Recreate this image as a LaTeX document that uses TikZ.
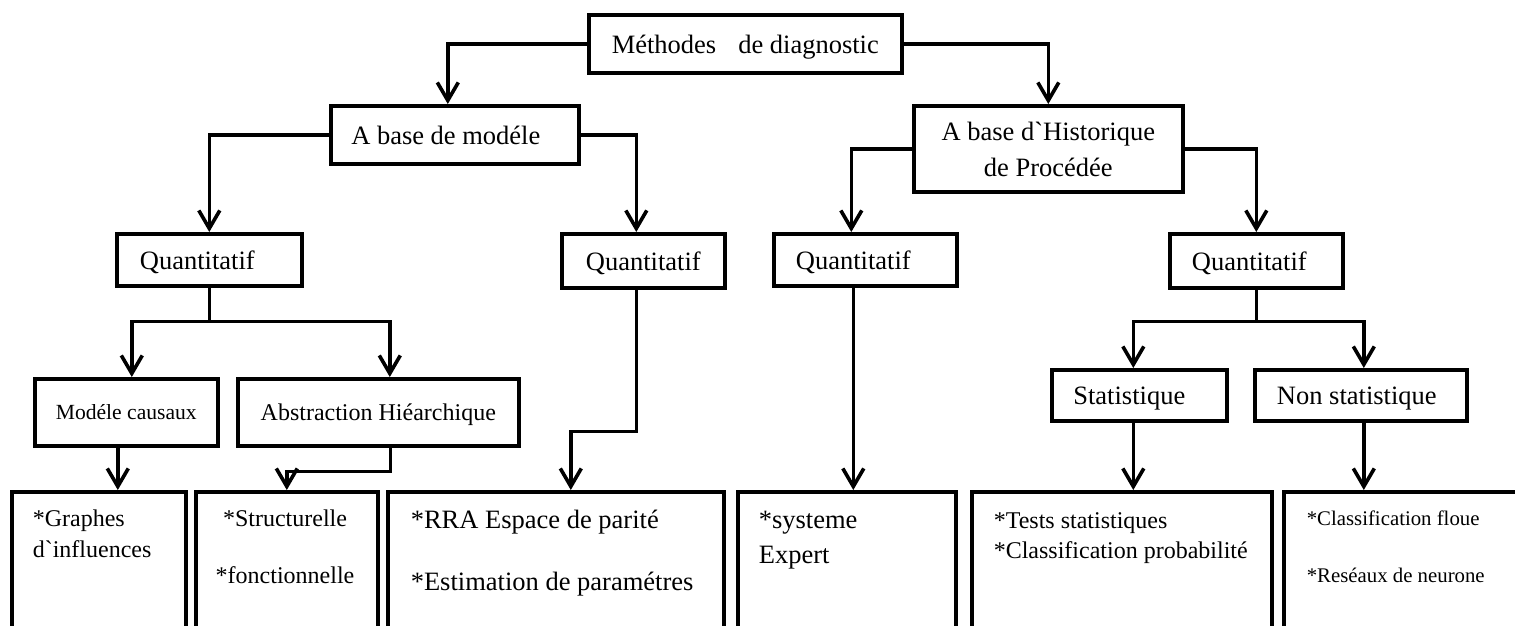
\documentclass[tikz,border=0pt]{standalone}
\usepackage{fontspec}
\setmainfont{Liberation Serif}
\usepackage{tikz}
\usetikzlibrary{arrows.meta}

\begin{document}
\begin{tikzpicture}
[x=0.5pt,y=-0.5pt,->,>={Straight Barb[length=9pt,width=10.5pt]},line width=1.8pt,
  big/.style={font=\fontsize{13.25}{16}\selectfont},
  mid/.style={font=\fontsize{12}{14}\selectfont},
  small/.style={font=\fontsize{10.4}{12.5}\selectfont},
  box/.style={draw,rectangle,anchor=north west,inner sep=0pt,text depth=0pt,big},
  leaf/.style={draw,rectangle,anchor=north west,minimum height=75pt},
  txt/.style={anchor=base west,inner sep=0pt},
  ctxt/.style={anchor=base,inner sep=0pt}]

  \useasboundingbox (0,0) rectangle (1515,626);

  % upper levels
  \node [box,minimum width=156.5pt,minimum height=29pt] (methodes) at 		(587,13) 	{Méthodes\hspace{11pt}de diagnostic};
  \node [box,minimum width=124pt,minimum height=29pt] (modele) at 		(329,104) 	{A base de modéle\hspace*{9pt}};
  \node [box,minimum width=134.5pt,minimum height=43pt,align=center] (historique) at 	(912,104) 	{A base d\textasciigrave Historique\\[2pt]de Procédée};
  \node [box,minimum width=92.5pt,minimum height=26pt] (quantA) at 		(115,232) 	{Quantitatif\hspace*{12pt}};
  \node [box,minimum width=81.5pt,minimum height=27pt] (quantB) at 		(560,232) 	{Quantitatif};
  \node [box,minimum width=91.5pt,minimum height=26pt] (quantC) at 		(772,232) 	{Quantitatif\hspace*{12pt}};
  \node [box,minimum width=86.5pt,minimum height=27pt] (quantD) at 		(1168,232) 	{Quantitatif\hspace*{7pt}};
  \node [box,minimum width=91.5pt,minimum height=33.5pt,font=\fontsize{10.8}{13}\selectfont] (causaux) at 	(33,377) 	{Modéle causaux};
  \node [box,minimum width=140.5pt,minimum height=33.5pt,mid] (abstraction) at 	(236,377) 	{Abstraction Hiéarchique};
  \node [box,minimum width=87.5pt,minimum height=25.5pt] (statistique) at 	(1050,368) 	{Statistique\hspace*{10pt}};
  \node [box,minimum width=106pt,minimum height=25.5pt] (nonstat) at 		(1253,368) 	{Non statistique\hspace*{4pt}};

  % bottom boxes
  \node [leaf,minimum width=87pt] (graphes) at 		(10,490) 	{};
  \node [leaf,minimum width=91pt] (structure) at 	(194,490) 	{};
  \node [leaf,minimum width=168pt] (residus) at 	(386,490) 	{};
  \node [leaf,minimum width=109pt] (expert) at 		(736,490) 	{};
  \node [leaf,minimum width=150pt] (tests) at 		(970,490) 	{};
  \node [leaf,minimum width=124pt] (neurone) at 	(1282,490) 	{};

  \node [txt,mid] (graphesA) at 		(31,526) 	{*Graphes};
  \node [txt,mid] (graphesB) at 		(31,557) 	{d\textasciigrave influences};
  \node [ctxt,mid] (structureA) at 		(285,526) 	{*Structurelle};
  \node [ctxt,mid] (structureB) at 		(285,583) 	{*fonctionnelle};
  \node [txt,big] (residusA) at 		(409,528) 	{*RRA Espace de parité};
  \node [txt,big] (residusB) at 		(409,590) 	{*Estimation de paramétres};
  \node [txt,big] (expertA) at 			(757,528) 	{*systeme};
  \node [txt,big] (expertB) at 			(757,563) 	{Expert};
  \node [txt,mid] (testsA) at 			(992,528) 	{*Tests statistiques};
  \node [txt,mid] (testsB) at 			(992,558) 	{*Classification probabilité};
  \node [txt,small] (neuroneA) at 		(1305,525) 	{*Classification floue};
  \node [txt,small] (neuroneB) at 		(1305,582) 	{*Reséaux de neurone};

  % connectors
  \foreach \from/\to in {methodes.east/historique.north,modele.west/quantA.north,historique.east/quantD.north}
    \draw (\from) -| (\to);
  \draw (methodes.west) -| ([xshift=-3.5pt]modele.north);
  \draw (modele.east) -| ([xshift=-3.5pt]quantB.north);
  \draw (historique.west) -| ([xshift=-7pt]quantC.north);

  \draw [-] (quantA.south) -- ++(0,34) coordinate (splitA);
  \draw (splitA) -| ([xshift=2.75pt]causaux.north);
  \draw (splitA) -| ([xshift=5.75pt]abstraction.north);
  \draw ([xshift=-4.25pt]causaux.south) -- ([xshift=-4.25pt]causaux.south |- graphes.north);
  \draw ([xshift=6pt]abstraction.south) -- ++(0,24) -| (structure.north);

  \draw ([xshift=-3.5pt]quantB.south) -- ++(0,142) -| ([xshift=7.5pt]residus.north);
  \draw ([xshift=-6pt]quantC.south) -- ([xshift=-6pt]quantC.south |- expert.north);

  \draw [-] (quantD.south) -- ++(0,32) coordinate (splitD);
  \draw (splitD) -| ([xshift=-3pt]statistique.north);
  \draw (splitD) -| ([xshift=1.5pt]nonstat.north);
  \draw ([xshift=-3pt]statistique.south) -- ([xshift=-3pt]statistique.south |- tests.north);
  \draw ([xshift=1.5pt]nonstat.south) -- ([xshift=1.5pt]nonstat.south |- neurone.north);

\end{tikzpicture}
\end{document}
